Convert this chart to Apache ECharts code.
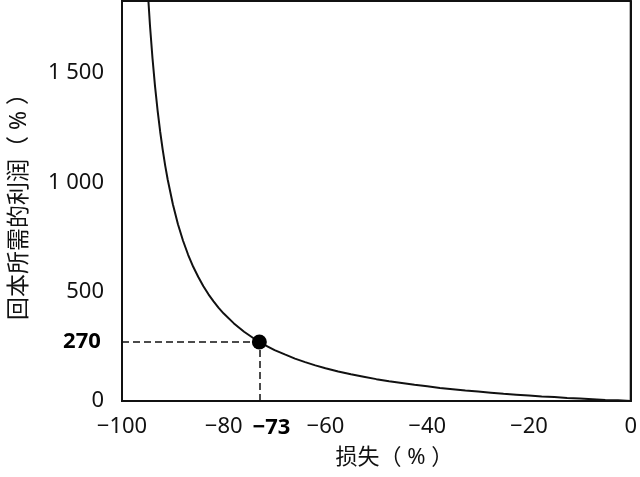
<!DOCTYPE html>
<html>
<head>
    <meta charset="UTF-8">
    <title>回本所需的利润</title>
    <script src="https://cdn.jsdelivr.net/npm/echarts@6/dist/echarts.min.js"></script>
    <style>
        html, body { margin: 0; padding: 0; background: #fff; }
        #container { width: 640px; height: 477px; }
    </style>
</head>
<body>
<div id="container"></div>
<script>
    // 损失(%) 与回本所需利润(%) —— 点
    var lossValues = [-95.5, -95, -94.5, -94, -93.5, -93, -92.5, -92, -91.5, -91, -90, -89, -88, -87, -86, -85,
        -84, -83, -82, -81, -80, -78, -76, -74, -73, -72, -70, -68, -66, -64, -62, -60, -57.5, -55, -52.5, -50,
        -47.5, -45, -42.5, -40, -37.5, -35, -32.5, -30, -27.5, -25, -22.5, -20, -17.5, -15, -12.5, -10, -7.5, -5, -2.5, 0];
    var profitValues = [2122, 1900, 1718, 1567, 1438, 1329, 1233, 1150, 1076, 1011, 900, 809, 733, 669, 614, 567,
        525, 488, 456, 426, 400, 355, 317, 285, 270, 257, 233, 213, 194, 178, 163, 150, 135, 122, 111, 100,
        90, 82, 74, 67, 60, 54, 48, 43, 38, 33, 29, 25, 21, 18, 14, 11, 8, 5, 3, 0];
    var markLoss = -73;
    var markProfit = 270;
    var xTickLabels = {'-100': '\u2212100', '-80': '\u221280', '-60': '\u221260', '-40': '\u221240', '-20': '\u221220', '0': '0'};
    var yTickLabels = {'0': '0', '500': '500', '1000': '1 000', '1500': '1 500'};

    var curve = lossValues.map(function (x, i) { return [x, profitValues[i]]; });
    var font = "'Noto Sans', 'Noto Sans CJK SC', sans-serif";

    var myChart = echarts.init(document.getElementById('container'));
    myChart.setOption({
        animation: false,
        grid: {
            left: 120, right: 8, top: 1, bottom: 76,
            show: true, borderColor: '#111', borderWidth: 2
        },
        xAxis: {
            type: 'value',
            min: -100, max: 0, interval: 20,
            name: '损失（ % ）',
            nameLocation: 'middle',
            nameGap: 46,
            nameTextStyle: { fontFamily: font, fontSize: 22, color: '#111', padding: [0, 0, 0, 36] },
            axisLine: { lineStyle: { color: '#111', width: 2 } },
            axisTick: { show: false },
            splitLine: { show: false },
            axisLabel: {
                fontFamily: font, fontSize: 22, color: '#111', margin: 15,
                formatter: function (v) { return xTickLabels[String(v)]; }
            }
        },
        yAxis: {
            type: 'value',
            min: 0, max: 1830, interval: 500,
            name: '回本所需的利润（ % ）',
            nameLocation: 'middle',
            nameGap: 91,
            nameTextStyle: { fontFamily: font, fontSize: 23, color: '#111' },
            axisLine: { show: true, lineStyle: { color: '#111', width: 2 } },
            axisTick: { show: false },
            splitLine: { show: false },
            axisLabel: {
                fontFamily: font, fontSize: 22, color: '#111', margin: 18,
                showMaxLabel: false,
                formatter: function (v) { return yTickLabels[String(v)] || ''; }
            }
        },
        series: [{
            type: 'line',
            data: curve,
            smooth: false,
            showSymbol: false,
            clip: true,
            lineStyle: { color: '#111', width: 2 },
            markLine: {
                silent: true,
                symbol: 'none',
                label: { show: false },
                lineStyle: { color: '#111', width: 1.5, type: [7, 4] },
                data: [
                    [{ coord: [-100, markProfit] }, { coord: [markLoss, markProfit] }],
                    [{ coord: [markLoss, 0] }, { coord: [markLoss, markProfit] }]
                ]
            }
        }, {
            type: 'scatter',
            data: [[markLoss, markProfit]],
            symbolSize: 15,
            itemStyle: { color: '#000', opacity: 1 },
            z: 5,
            markPoint: {
                silent: true,
                symbol: 'circle',
                symbolSize: 0,
                label: {
                    show: true,
                    fontFamily: font, fontSize: 22, fontWeight: 'bold', color: '#000'
                },
                data: [
                    { coord: [-100, markProfit], value: String(markProfit),
                      label: { position: 'inside', offset: [-40, 0] } },
                    { coord: [markLoss, 0], value: '\u2212' + Math.abs(markLoss),
                      label: { position: 'inside', offset: [12, 27] } }
                ]
            }
        }]
    });
</script>
</body>
</html>
